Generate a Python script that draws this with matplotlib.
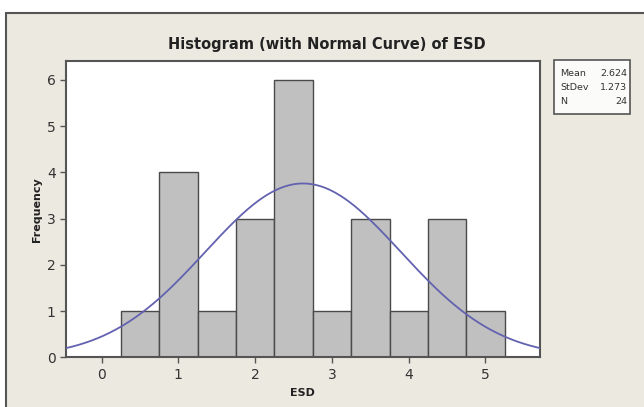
import numpy as np
import matplotlib
matplotlib.use('Agg')
import matplotlib.pyplot as plt
from matplotlib.patches import Rectangle

# histogram data (bin midpoints, counts)
MIDS = [0.5, 1.0, 1.5, 2.0, 2.5, 3.0, 3.5, 4.0, 4.5, 5.0]
COUNTS = [1, 4, 1, 3, 6, 1, 3, 1, 3, 1]
BIN_W = 0.5
MEAN, SD, N = 2.624, 1.273, 24
STATS_LABELS = ['Mean', 'StDev', 'N']
STATS_VALUES = ['2.624', '1.273', '24']

W, H = 644, 407
BG = '#ECE9E0'
EDGE = '#4a4a4a'
TXT = '#333333'


def fx(px):
    return px / W


def fy(py):
    return 1 - py / H


fig = plt.figure(figsize=(W / 100, H / 100), dpi=100, facecolor='white')

# beige panel with dark frame at top/left
fig.patches.append(Rectangle((fx(6), -0.05), 1.2, fy(13) + 0.05, transform=fig.transFigure,
                             facecolor=BG, edgecolor='#555555', linewidth=1.5, zorder=-10))

ax = fig.add_axes([fx(65.5), fy(357.3), fx(540) - fx(65.5), fy(61) - fy(357.3)])
ax.set_facecolor('white')
ax.bar(MIDS, COUNTS, width=BIN_W, color='#C0C0C0', edgecolor=EDGE, linewidth=1.0, zorder=2)

xs = np.linspace(-0.47, 5.71, 300)
curve = N * BIN_W * np.exp(-(xs - MEAN) ** 2 / (2 * SD ** 2)) / (SD * np.sqrt(2 * np.pi))
ax.plot(xs, curve, color='#6262B0', linewidth=1.3, zorder=3)

ax.set_xlim(-0.47, 5.71)
ax.set_ylim(0, 6.41)
ax.set_xticks(range(0, 6))
ax.set_yticks(range(0, 7))
for s in ax.spines.values():
    s.set_color('#555555')
    s.set_linewidth(1.5)
ax.tick_params(axis='both', direction='out', length=4.5, width=1.0, color='#555555',
               labelsize=10, labelcolor=TXT, pad=2.5)
ax.tick_params(axis='x', pad=3.5)

fig.text(fx(327), fy(49), 'Histogram (with Normal Curve) of ESD', ha='center', va='baseline',
         fontsize=10.5, fontweight='bold', color='#222222')
fig.text(fx(37), fy(210), 'Frequency', rotation=90, ha='center', va='center',
         fontsize=8, fontweight='bold', color='#222222')
fig.text(fx(302), fy(393), 'ESD', ha='center', va='center',
         fontsize=8, fontweight='bold', color='#222222')

# stats box
fig.patches.append(Rectangle((fx(554), fy(114)), fx(630) - fx(554), fy(60) - fy(114),
                             transform=fig.transFigure, facecolor='#FBFBF9',
                             edgecolor='#555555', linewidth=1.2, zorder=1))
for i, (lab, val) in enumerate(zip(STATS_LABELS, STATS_VALUES)):
    y = fy(73 + i * 14.5)
    fig.text(fx(560), y, lab, ha='left', va='center', fontsize=6.8, color=TXT)
    fig.text(fx(627), y, val, ha='right', va='center', fontsize=6.8, color=TXT)

fig.savefig('out.png', dpi=100, facecolor=fig.get_facecolor())
